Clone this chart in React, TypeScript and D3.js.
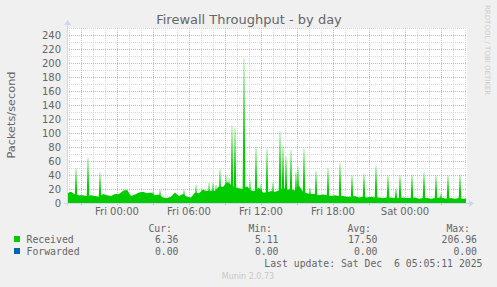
import React from 'react';
import * as d3 from 'd3';

// ---- data ----
const startTime = new Date(2025, 11, 4, 19, 50); // Thu Dec 4 19:50
const endTime = new Date(2025, 11, 6, 5, 10); // Sat Dec 6 05:10
const stepMinutes = 5;
const baseEvery = 4; // base samples every 4 steps (20 min)

// Received packets/sec, body of the area (one value every 20 minutes)
const receivedBase = [
  14, 16, 12, 11, 11, 10, 11, 10, 9, 13,
  11, 10, 13, 13, 17, 19, 10, 12, 15, 16,
  14, 15, 11, 12, 8, 7, 9, 15, 10, 13,
  9, 8, 15, 14, 19, 17, 18, 17, 24, 23,
  30, 26, 22, 21, 20, 24, 18, 17, 22, 15,
  15, 17, 16, 18, 22, 19, 20, 18, 25, 16,
  14, 13, 13, 11, 12, 11, 10, 11, 10, 10,
  9, 9, 10, 8, 9, 8, 9, 8, 8, 7,
  8, 8, 7, 7, 8, 7, 7, 8, 6, 7,
  7, 6, 7, 8, 7, 6, 7, 6, 7, 6,
];
const receivedLast = 6.36;

// Narrow spikes: [step index (5-min steps from start), value]
const receivedSpikes: [number, number][] = [
  [9, 50], [21, 65], [33, 44], [57, 20], [86, 17], [93, 19], [117, 19],
  [129, 26], [135, 21], [142, 29], [146, 30], [149, 26], [153, 49],
  [159, 40], [162, 36], [165, 111], [168, 108], [177, 207], [183, 33],
  [189, 80], [194, 28], [200, 78], [206, 30], [213, 103], [216, 82],
  [219, 66], [224, 76], [229, 45], [231, 52], [237, 78], [243, 22],
  [249, 46], [261, 50], [273, 57], [285, 40], [297, 42], [309, 54],
  [321, 40], [329, 21], [333, 40], [345, 41], [357, 44], [369, 40],
  [374, 14], [381, 40], [393, 41],
];

const legendNames = ['Received', 'Forwarded'];
const legendColors = ['#00cc00', '#0066b3'];
const legendCur = ['6.36', '0.00'];
const legendMin = ['5.11', '0.00'];
const legendAvg = ['17.50', '0.00'];
const legendMax = ['206.96', '0.00'];

const yTicks = [0, 20, 40, 60, 80, 100, 120, 140, 160, 180, 200, 220, 240];

// ---- layout ----
const W = 497;
const H = 287;
const left = 67;
const right = 467;
const top = 28;
const bottom = 203;

export default function App() {
  const x = d3.scaleTime().domain([startTime, endTime]).range([left, right]);
  const y = d3.scaleLinear().domain([0, 250]).range([bottom, top]);
  const tAt = (i: number) => new Date(startTime.getTime() + i * stepMinutes * 60000);

  const basePts: [Date, number][] = receivedBase.map((v, k) => [tAt(k * baseEvery), v]);
  basePts.push([tAt(399), receivedLast]);

  const area = d3
    .area<[Date, number]>()
    .x((d) => x(d[0]))
    .y0(y(0))
    .y1((d) => y(d[1]));

  const spikePaths = receivedSpikes.map(([i, v]) =>
    area([
      [tAt(i - 1.5), 0],
      [tAt(i - 0.15), v],
      [tAt(i + 0.15), v],
      [tAt(i + 1.5), 0],
    ])
  );

  const minorX = d3.timeHour.every(1)!.range(startTime, endTime);
  const majorX = d3.timeHour.every(3)!.range(startTime, endTime);
  const labelX = d3.timeHour.every(6)!.range(startTime, endTime);
  const fmt = d3.timeFormat('%a %H:%M');
  const minorY = d3.range(10, 251, 10);

  const mono = "'DejaVu Sans Mono', monospace";
  const sans = "'DejaVu Sans', sans-serif";
  const fontCol = '#666666';

  return (
    <svg width={W} height={H} style={{ position: 'absolute', left: 0, top: 0 }}>
      <defs>
        <clipPath id="plotClip">
          <rect x={left} y={top} width={right - left} height={bottom - top} />
        </clipPath>
      </defs>
      <rect x={0} y={0} width={W} height={H} fill="#f0f0f0" />
      <rect x={left} y={top} width={right - left} height={bottom - top} fill="#ffffff" />

      {/* minor grid */}
      {minorY.map((v) => (
        <line key={'my' + v} x1={left} x2={right} y1={y(v) + 0.5} y2={y(v) + 0.5}
          stroke="#d6d6d6" strokeDasharray="1,1" />
      ))}
      {minorX.map((t, i) => (
        <line key={'mx' + i} x1={Math.round(x(t)) + 0.5} x2={Math.round(x(t)) + 0.5} y1={top} y2={bottom}
          stroke="#d6d6d6" strokeDasharray="1,1" />
      ))}
      {/* major grid */}
      {yTicks.map((v) => (
        <line key={'My' + v} x1={left} x2={right} y1={y(v) + 0.5} y2={y(v) + 0.5}
          stroke="#eaa8a8" strokeDasharray="1,1" />
      ))}
      {majorX.map((t, i) => (
        <line key={'Mx' + i} x1={Math.round(x(t)) + 0.5} x2={Math.round(x(t)) + 0.5} y1={top} y2={bottom + 3}
          stroke="#eaa8a8" strokeDasharray="1,1" />
      ))}

      {/* data */}
      <g clipPath="url(#plotClip)">
        <path d={area(basePts) ?? ''} fill="#00cc00" />
        {spikePaths.map((p, i) => (
          <path key={'s' + i} d={p ?? ''} fill="#00cc00" />
        ))}
      </g>

      {/* axes */}
      <line x1={left + 0.5} x2={left + 0.5} y1={bottom + 3} y2={top - 5} stroke="#cfd6f8" />
      <line x1={left - 3} x2={right + 4} y1={bottom + 0.5} y2={bottom + 0.5} stroke="#cfd6f8" />
      <path d={`M${left - 3},${top - 3} L${left + 4},${top - 3} L${left + 0.5},${top - 8} Z`} fill="#cfd6f8" />
      <path d={`M${right + 2},${bottom - 3} L${right + 2},${bottom + 4} L${right + 7},${bottom + 0.5} Z`} fill="#cfd6f8" />

      {/* y tick labels */}
      {yTicks.map((v) => (
        <text key={'yl' + v} x={61} y={y(v) + 3.5} textAnchor="end" fontFamily={sans} fontSize={10} fill={fontCol}>
          {v}
        </text>
      ))}
      {/* x tick labels */}
      {labelX.map((t, i) => (
        <text key={'xl' + i} x={x(t)} y={215} textAnchor="middle" fontFamily={sans} fontSize={10} fill={fontCol}>
          {fmt(t)}
        </text>
      ))}

      {/* title & labels */}
      <text x={249} y={24} textAnchor="middle" fontFamily={sans} fontSize={13} fill={fontCol}>
        Firewall Throughput - by day
      </text>
      <text transform="translate(15,115) rotate(-90)" textAnchor="middle" fontFamily={sans} fontSize={11.3} fill={fontCol}>
        Packets/second
      </text>
      <text transform="translate(485,5) rotate(90)" textAnchor="start" fontFamily={sans} fontSize={7} fill="#cccccc">
        RRDTOOL / TOBI OETIKER
      </text>

      {/* legend */}
      <g fontFamily={mono} fontSize={9.8} fill={fontCol}>
        <text x={172} y={232} textAnchor="end">Cur:</text>
        <text x={272} y={232} textAnchor="end">Min:</text>
        <text x={371} y={232} textAnchor="end">Avg:</text>
        <text x={470} y={232} textAnchor="end">Max:</text>
        {legendNames.map((n, i) => {
          const yy = 243 + i * 12;
          return (
            <g key={n}>
              <rect x={14} y={yy - 7} width={6} height={6} fill={legendColors[i]} />
              <text x={26.5} y={yy}>{n}</text>
              <text x={178.5} y={yy} textAnchor="end">{legendCur[i]}</text>
              <text x={278.5} y={yy} textAnchor="end">{legendMin[i]}</text>
              <text x={377.5} y={yy} textAnchor="end">{legendAvg[i]}</text>
              <text x={477} y={yy} textAnchor="end">{legendMax[i]}</text>
            </g>
          );
        })}
        <text x={482.5} y={267} textAnchor="end" xmlSpace="preserve" style={{ whiteSpace: 'pre' }}>
          {'Last update: Sat Dec  6 05:05:11 2025'}
        </text>
      </g>
      <text x={248} y={279} textAnchor="middle" fontFamily={sans} fontSize={8} fill="#c8c8c8">
        Munin 2.0.73
      </text>
    </svg>
  );
}
